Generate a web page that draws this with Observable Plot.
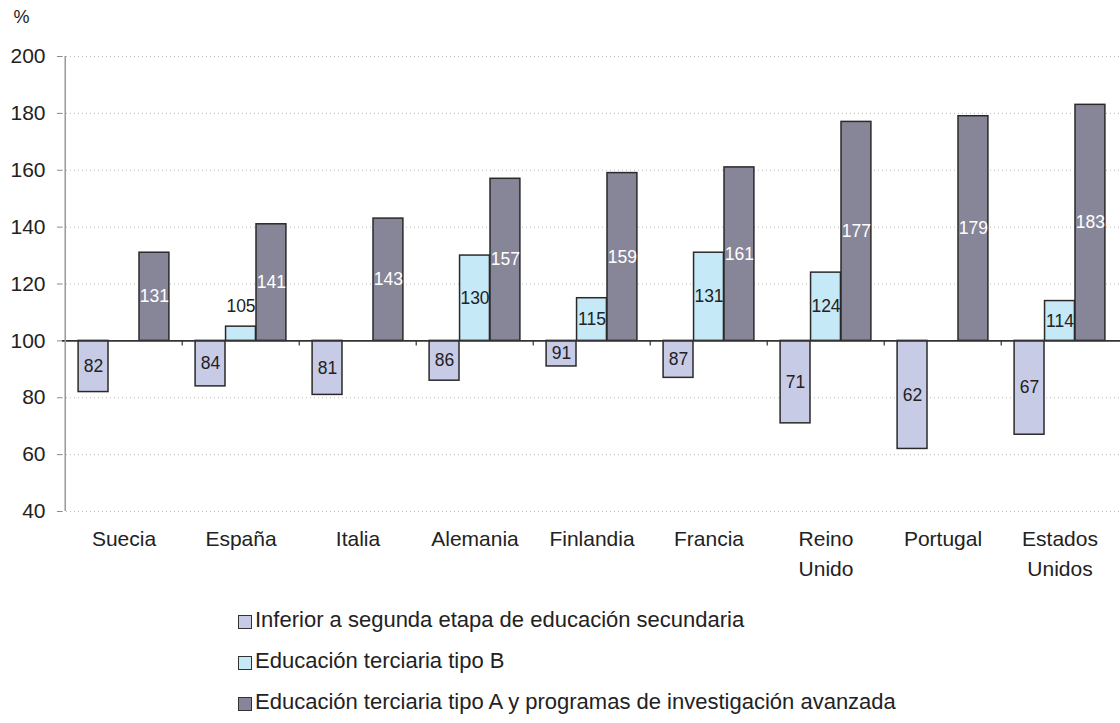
<!DOCTYPE html>
<html>
<head>
<meta charset="utf-8">
<script src="https://cdn.jsdelivr.net/npm/d3@7"></script>
<script src="https://cdn.jsdelivr.net/npm/@observablehq/plot@0.6"></script>
<style>
  body { margin: 0; background: #fff; font-family: "Liberation Sans", Arial, sans-serif; color: #222; }
  #chart svg { font-family: "Liberation Sans", Arial, sans-serif; }
  #legend { padding-left: 238px; padding-top: 9px; font-size: 22px; color: #222; }
  #legend .row { height: 41px; line-height: 41px; white-space: nowrap; }
  #legend .sw { display: inline-block; width: 14px; height: 14px; border: 1px solid #333; margin-right: 3px; vertical-align: -2px; box-sizing: border-box; }
</style>
</head>
<body>
<div id="chart"></div>
<div id="legend"></div>
<script>
const countries = ["Suecia", "España", "Italia", "Alemania", "Finlandia", "Francia", "Reino\nUnido", "Portugal", "Estados\nUnidos"];
const seriesNames = [
  "Inferior a segunda etapa de educación secundaria",
  "Educación terciaria tipo B",
  "Educación terciaria tipo A y programas de investigación avanzada"
];
const inferior = [82, 84, 81, 86, 91, 87, 71, 62, 67];
const tipoB = [null, 105, null, 130, 115, 131, 124, null, 114];
const tipoA = [131, 141, 143, 157, 159, 161, 177, 179, 183];
const yTicks = [40, 60, 80, 100, 120, 140, 160, 180, 200];
const colors = ["#c8cbe6", "#c6e9f8", "#878598"];
const labelColors = ["#222", "#222", "#ffffff"];

const seriesValues = [inferior, tipoB, tipoA];
const rows = [];
seriesValues.forEach((vals, si) => {
  vals.forEach((v, ci) => {
    if (v != null) rows.push({country: countries[ci], series: seriesNames[si], si, value: v});
  });
});

const width = 1120, height = 590, ml = 62, mr = 0, mt = 56, mb = 79;
const step = (width - ml - mr) / countries.length;
const pad = 13.1;
const bw = (step - 2 * pad) / 3;
const isShort = d => d.value > 100 && d.value - 100 < 8;

const marks = [
  Plot.ruleY(yTicks.filter(v => v !== 100), {stroke: "#bbb", strokeDasharray: "1,3", strokeWidth: 1})
];
for (let i = 0; i < 3; i++) {
  const data = rows.filter(d => d.si === i);
  marks.push(Plot.barY(data, {
    x: "country", y1: () => 100, y2: "value",
    fill: colors[i], stroke: "#2a2a2a", strokeWidth: 1.5,
    insetLeft: pad + i * bw, insetRight: pad + (2 - i) * bw
  }));
}
marks.push(Plot.ruleY([100], {stroke: "#333", strokeWidth: 1.6}));
// boundary ticks on the 100 line
marks.push(Plot.ruleX(countries.slice(1), {x: d => d, y1: () => 100, y2: () => 100, dx: -step / 2, insetTop: 5, stroke: "#333", strokeWidth: 1.2}));
// y axis line
marks.push(Plot.ruleX([countries[0]], {x: d => d, y1: () => 40, y2: () => 200, dx: -step / 2, stroke: "#999", strokeWidth: 1.5}));
marks.push(Plot.axisY({ticks: yTicks, tickSize: 5, tickPadding: 12, fontSize: 21, stroke: "#888", fill: "#222", label: null}));
// value labels (inside bars; above very short bars)
for (let i = 0; i < 3; i++) {
  const data = rows.filter(d => d.si === i);
  marks.push(Plot.text(data.filter(d => !isShort(d)), {
    x: "country",
    y: d => (100 + d.value) / 2,
    dx: (i - 1) * bw,
    text: d => String(d.value),
    fill: labelColors[i], fontSize: 17.5
  }));
  marks.push(Plot.text(data.filter(isShort), {
    x: "country",
    y: "value",
    dx: (i - 1) * bw,
    dy: -20,
    text: d => String(d.value),
    fill: "#222", fontSize: 17.5
  }));
}
// category labels
marks.push(Plot.text(countries, {x: d => d, frameAnchor: "bottom", dy: 13.5, lineAnchor: "top", lineHeight: 1.43, fontSize: 21, fill: "#222", text: d => d}));
// unit label
marks.push(Plot.text(["%"], {frameAnchor: "top-left", dx: -49, dy: -39, textAnchor: "start", lineAnchor: "middle", fontSize: 18, fill: "#222", text: d => d}));

const chart = Plot.plot({
  width, height, marginLeft: ml, marginRight: mr, marginTop: mt, marginBottom: mb,
  x: {type: "band", domain: countries, padding: 0, axis: null},
  y: {domain: [40, 200], axis: null},
  marks
});
document.getElementById("chart").appendChild(chart);

const legend = document.getElementById("legend");
seriesNames.forEach((name, i) => {
  const row = document.createElement("div");
  row.className = "row";
  const sw = document.createElement("span");
  sw.className = "sw";
  sw.style.background = colors[i];
  row.appendChild(sw);
  row.appendChild(document.createTextNode(name));
  legend.appendChild(row);
});
</script>
</body>
</html>
